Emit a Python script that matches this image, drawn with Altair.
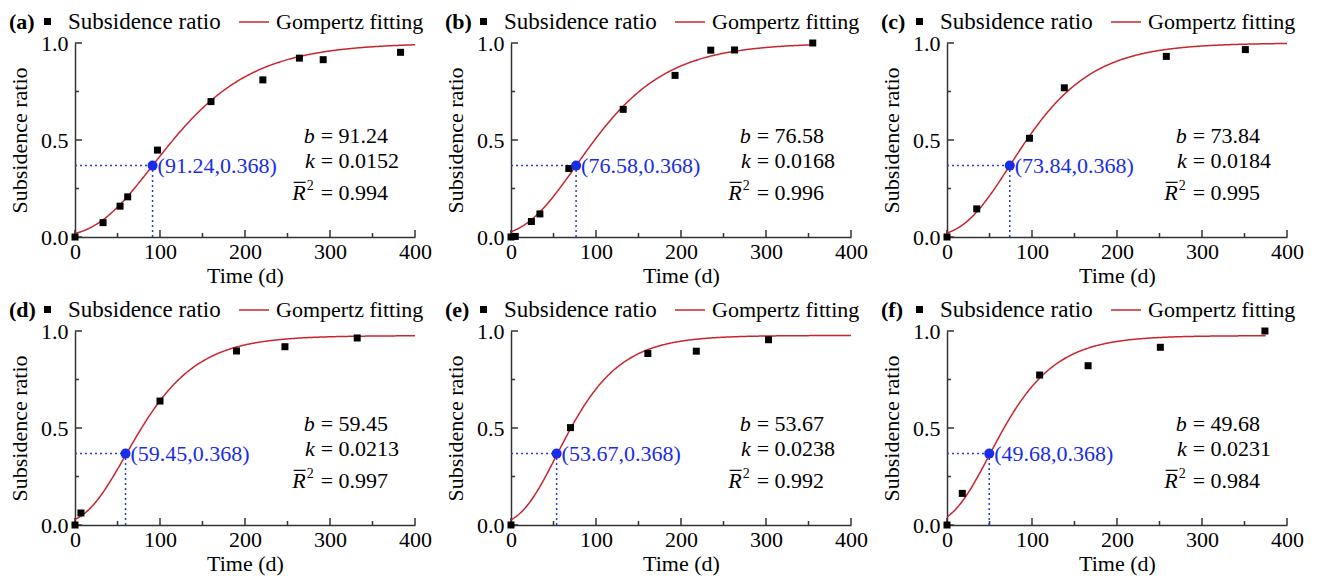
import altair as alt
import numpy as np
import pandas as pd

# ---- data -------------------------------------------------------------
panel_tags = ["(a)", "(b)", "(c)", "(d)", "(e)", "(f)"]

# Gompertz parameters reported for each monitoring section
b_values = [91.24, 76.58, 73.84, 59.45, 53.67, 49.68]
k_values = [0.0152, 0.0168, 0.0184, 0.0213, 0.0238, 0.0231]
r2_values = [0.994, 0.996, 0.995, 0.997, 0.992, 0.984]
asymptotes = [1.0, 1.0, 1.0, 0.976, 0.977, 0.976]
fit_end = [400, 355, 400, 400, 400, 375]

# measured subsidence ratio against time (d)
times = [
    [0, 33, 53, 62, 97, 160, 221, 264, 292, 383],
    [0, 5, 24, 34, 68, 132, 193, 235, 263, 355],
    [0, 35, 97, 138, 258, 351],
    [0, 7, 100, 190, 247, 332],
    [0, 70, 161, 218, 303],
    [0, 18, 109, 166, 251, 374],
]
ratios = [
    [0.0, 0.074, 0.159, 0.207, 0.448, 0.698, 0.81, 0.922, 0.914, 0.952],
    [0.0, 0.003, 0.08, 0.119, 0.353, 0.658, 0.833, 0.963, 0.964, 1.0],
    [0.0, 0.145, 0.509, 0.769, 0.931, 0.966],
    [0.0, 0.062, 0.639, 0.897, 0.919, 0.964],
    [0.0, 0.502, 0.884, 0.896, 0.955],
    [0.0, 0.163, 0.773, 0.821, 0.916, 1.0],
]

x_major = [0, 100, 200, 300, 400]
x_minor = [50, 150, 250, 350]
y_major = [0.0, 0.5, 1.0]
y_minor = [0.25, 0.75]
E_INV = 0.368

# ---- styling ----------------------------------------------------------
FONT = "Liberation Serif"
RED = "#c8262c"
BLUE = "#1a2de6"
DOT_BLUE = "#2b3bd0"
AXIS = "#333333"
W, H = 340, 194
EQ_X = 289
ROW_Y = [0.52, 0.39, 0.225]

x_scale = alt.Scale(domain=[0, 400], nice=False)
y_scale = alt.Scale(domain=[0, 1], nice=False)

x_axis = alt.Axis(
    values=x_major, format="d", title="Time (d)", grid=False,
    ticks=False, tickSize=0, labelFlush=False, labelOverlap=False,
    labelPadding=4, titlePadding=3,
)
y_axis = alt.Axis(
    values=y_major, format=".1f", title="Subsidence ratio", grid=False,
    ticks=False, tickSize=0, labelFlush=False, labelOverlap=False,
    labelPadding=7, titlePadding=9,
)


def inward_ticks(values, channel, length):
    """Short tick marks drawn just inside an axis line."""
    df = pd.DataFrame({"v": values})
    if channel == "x":
        return alt.Chart(df).mark_tick(
            orient="vertical", size=length, thickness=1.5, color=AXIS,
            yOffset=-length / 2, opacity=1,
        ).encode(x=alt.X("v:Q", scale=x_scale), y=alt.datum(0))
    return alt.Chart(df).mark_tick(
        orient="horizontal", size=length, thickness=1.5, color=AXIS,
        xOffset=length / 2, opacity=1,
    ).encode(y=alt.Y("v:Q", scale=y_scale), x=alt.datum(0))


def panel(i):
    b, k = b_values[i], k_values[i]
    pts = pd.DataFrame({"t": times[i], "r": ratios[i], "series": "Subsidence ratio"})
    tt = np.arange(0, fit_end[i] + 0.5, 1.0)
    fit = pd.DataFrame({
        "t": tt,
        "r": asymptotes[i] * np.exp(-np.exp(-k * (tt - b))),
        "series": "Gompertz fitting",
    })
    key = pd.DataFrame({
        "b": [b], "y": [E_INV], "zero": [0.0],
        "label": [f"({b:.2f},{E_INV:.3f})"],
    })
    stats = pd.DataFrame({
        "x": [EQ_X] * 3,
        "y": ROW_Y,
        "var": ["b", "k", "R"],
        "val": [f"= {b:.2f}", f"= {k:.4f}", f"= {r2_values[i]:.3f}"],
    })

    X = alt.X("t:Q", scale=x_scale, axis=x_axis)
    Y = alt.Y("r:Q", scale=y_scale, axis=y_axis)
    SX = alt.X("x:Q", scale=x_scale)
    SY = alt.Y("y:Q", scale=y_scale)

    h_rule = alt.Chart(key).mark_rule(
        color=DOT_BLUE, strokeDash=[2, 3], strokeWidth=1.5
    ).encode(x=alt.X("zero:Q", scale=x_scale), x2="b:Q", y=alt.Y("y:Q", scale=y_scale))
    v_rule = alt.Chart(key).mark_rule(
        color=DOT_BLUE, strokeDash=[2, 3], strokeWidth=1.5
    ).encode(x=alt.X("b:Q", scale=x_scale), y=alt.Y("zero:Q", scale=y_scale), y2="y:Q")

    curve = alt.Chart(fit).mark_line(strokeWidth=1.5, clip=False).encode(
        x=X, y=Y,
        stroke=alt.Stroke(
            "series:N",
            scale=alt.Scale(domain=["Gompertz fitting"], range=[RED]),
            legend=alt.Legend(
                title=None, orient="none", legendX=163, legendY=-37,
                symbolType="stroke", symbolSize=900, symbolStrokeWidth=1.5,
                labelFont=FONT, labelFontSize=22, labelColor="black",
                labelOffset=6, padding=0,
            ),
        ),
    )
    points = alt.Chart(pts).mark_square(size=49, opacity=1).encode(
        x=X, y=Y,
        fill=alt.Fill(
            "series:N",
            scale=alt.Scale(domain=["Subsidence ratio"], range=["black"]),
            legend=alt.Legend(
                title=None, orient="none", legendX=-39, legendY=-33,
                symbolType="square", symbolSize=49, symbolStrokeWidth=0,
                labelFont=FONT, labelFontSize=23, labelColor="black",
                labelOffset=9, padding=0,
            ),
        ),
    )
    dot = alt.Chart(key).mark_circle(size=100, color=BLUE, opacity=1).encode(
        x=alt.X("b:Q", scale=x_scale), y=alt.Y("y:Q", scale=y_scale)
    )
    dot_label = alt.Chart(key).mark_text(
        align="left", baseline="middle", dx=5, font=FONT, fontSize=22, color=BLUE
    ).encode(x=alt.X("b:Q", scale=x_scale), y=alt.Y("y:Q", scale=y_scale), text="label:N")

    # b, k on the first two rows; R-bar squared on the third
    var_text = alt.Chart(stats.iloc[:2]).mark_text(
        align="right", baseline="middle", dx=-6, font=FONT, fontSize=22,
        fontStyle="italic", color="black"
    ).encode(x=SX, y=SY, text="var:N")
    r_text = alt.Chart(stats.iloc[[2]]).mark_text(
        align="right", baseline="middle", dx=-15, font=FONT, fontSize=22,
        fontStyle="italic", color="black"
    ).encode(x=SX, y=SY, text="var:N")
    r_bar = alt.Chart(stats.iloc[[2]]).mark_tick(
        orient="horizontal", size=12, thickness=1.2, color="black",
        xOffset=-21, yOffset=-11, opacity=1,
    ).encode(x=SX, y=SY)
    sup_text = alt.Chart(stats.iloc[[2]]).mark_text(
        align="left", baseline="middle", dx=-14, dy=-7, font=FONT, fontSize=14,
        color="black"
    ).encode(x=SX, y=SY, text=alt.value("2"))
    val_text = alt.Chart(stats).mark_text(
        align="left", baseline="middle", font=FONT, fontSize=22, color="black"
    ).encode(x=SX, y=SY, text="val:N")

    ticks = [
        inward_ticks(x_major, "x", 7), inward_ticks(x_minor, "x", 4),
        inward_ticks(y_major, "y", 7), inward_ticks(y_minor, "y", 4),
    ]

    return alt.layer(
        *ticks, h_rule, v_rule, curve, points, dot, dot_label,
        var_text, r_text, r_bar, sup_text, val_text
    ).properties(
        width=W, height=H,
        title=alt.TitleParams(
            panel_tags[i], anchor="start", frame="group", dx=-66,
            font=FONT, fontSize=22, fontWeight="bold", color="black", offset=-28,
        ),
    )


chart = alt.concat(
    *[panel(i) for i in range(6)],
    columns=3,
    spacing=alt.RowColnumber(row=94, column=96),
    bounds="flush",
).resolve_scale(
    fill="independent", stroke="independent"
).resolve_legend(
    fill="independent", stroke="independent"
).properties(
    padding={"left": 8, "top": 6, "right": 5, "bottom": 5}
).configure_view(
    stroke=None
).configure_axis(
    labelFont=FONT, labelFontSize=22, labelColor="black",
    titleFont=FONT, titleFontSize=22, titleFontWeight="normal", titleColor="black",
    domainColor=AXIS, domainWidth=1.5,
)

chart.save("out.html", embed_options={"renderer": "svg", "actions": False})
